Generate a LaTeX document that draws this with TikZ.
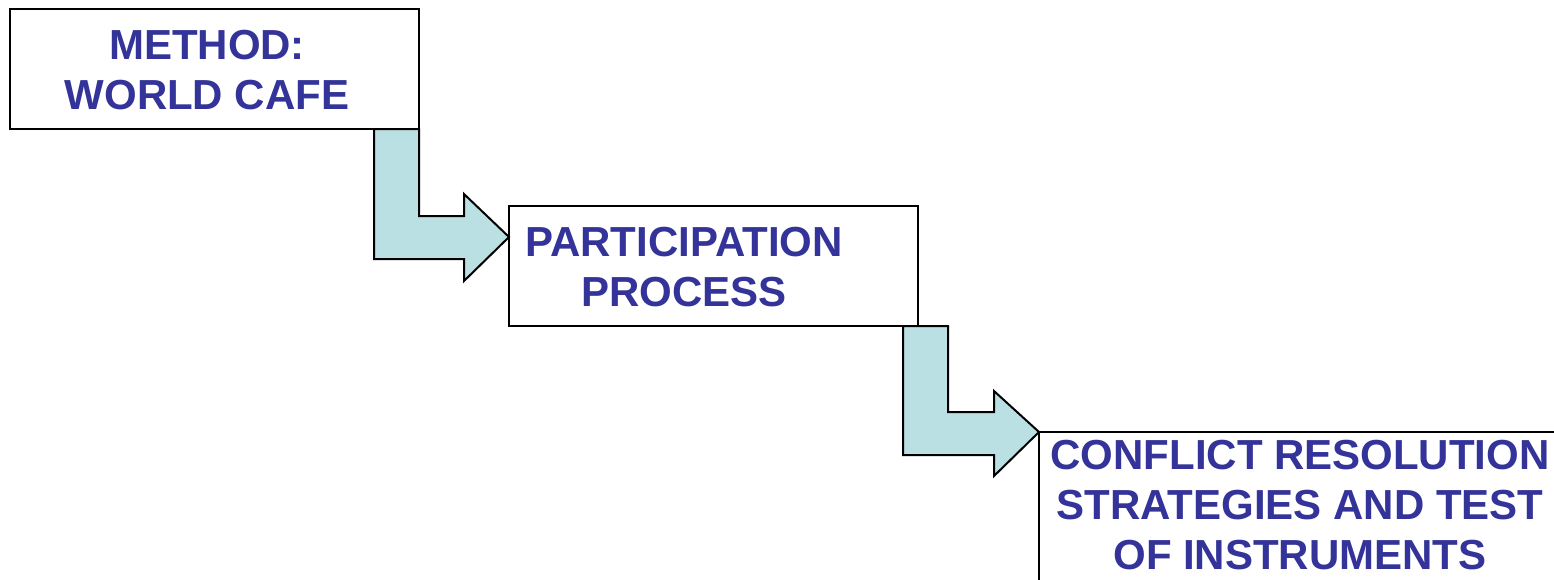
\documentclass[tikz,border=0pt]{standalone}
\usepackage{fontspec}
\setmainfont{Liberation Sans}
\definecolor{stepblue}{RGB}{51,51,153}
\definecolor{stepcyan}{RGB}{187,224,227}

\begin{document}
\begin{tikzpicture}[x=0.5pt, y=-0.5pt, line width=1pt,
    box/.style={draw, rectangle, fill=white, inner sep=0pt, outer sep=0pt, anchor=north west},
    words/.style={align=center, inner sep=0pt, text=stepblue, font=\bfseries\fontsize{21}{25}\selectfont},
    bent/.style={draw, fill=stepcyan, line join=miter}]
    \useasboundingbox (0, 0) rectangle (1554, 579);
    \clip (0, 0) rectangle (1554, 579);
    \node [box, minimum width=204.5pt, minimum height=60pt] (1) at (10, 9) {};
    \node [box, minimum width=204.5pt, minimum height=60pt] (2) at (509, 206) {};
    \node [box, minimum width=280pt, minimum height=100pt] (3) at (1039, 432) {};
    \node [words] (4) at (207, 70) {METHOD:\\WORLD CAFE};
    \node [words] (5) at (684, 267) {PARTICIPATION\\PROCESS};
    \node [words] (6) at (1300, 505) {CONFLICT RESOLUTION\\STRATEGIES AND TEST\\OF INSTRUMENTS};
    \draw [bent] (1.south east) -- ++(0, 87) -- ++(45, 0) -- ++(0, -22)
      -- ([shift={(0, 31)}]2.north west) -- ++(-45, 44) -- ++(0, -22)
      -- ++(-90, 0) -- ++(0, -130) -- cycle;
    \draw [bent] ([shift={(30, 0)}]2.south east) -- ++(0, 86) -- ++(46, 0) -- ++(0, -21)
      -- (3.north west) -- ++(-45, 44) -- ++(0, -21)
      -- ++(-91, 0) -- ++(0, -129) -- cycle;
  \end{tikzpicture}
\end{document}
